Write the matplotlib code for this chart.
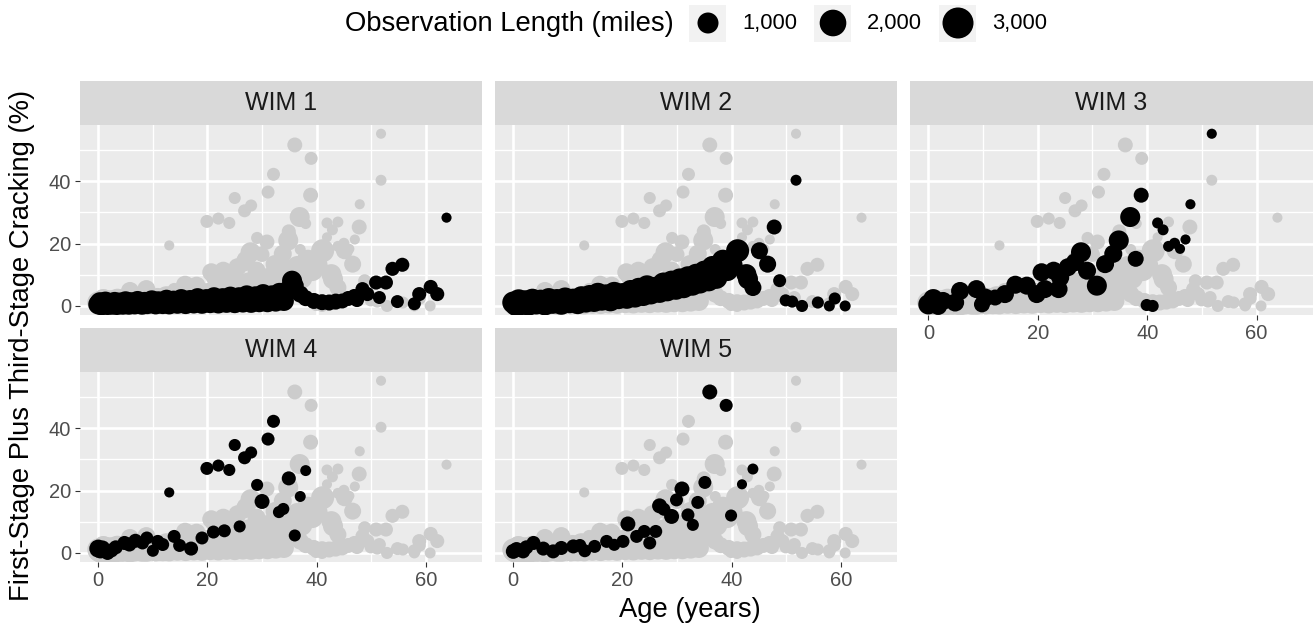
import numpy as np
import matplotlib
matplotlib.use("Agg")
import matplotlib.pyplot as plt
from matplotlib.patches import Rectangle

plt.rcParams['font.family'] = ['Liberation Sans', 'DejaVu Sans']

# ---------------- data ----------------
panel_titles = ["WIM 1", "WIM 2", "WIM 3", "WIM 4", "WIM 5"]
legend_breaks = [1000, 2000, 3000]
legend_labels = ["1,000", "2,000", "3,000"]
x_ticks = [0, 20, 40, 60]
y_ticks = [0, 20, 40]

wim1_age = [0.0, 0.3, 0.6, 1.0, 1.3, 1.7, 2.0, 2.5, 3.0, 3.4, 4.0, 4.5, 5.0, 5.6, 6.0, 6.7, 7.2, 8.0, 8.5, 9.0,
            9.8, 10.5, 11.0, 11.8, 12.5, 13.0, 13.8, 14.5, 15.2, 16.0, 16.8, 17.5, 18.2, 19.0, 19.8, 20.5, 21.2,
            22.0, 22.8, 23.5, 24.2, 25.0, 25.8, 26.5, 27.2, 28.0, 28.8, 29.5, 30.2, 31.0, 31.8, 32.5, 33.2, 34.0,
            34.8, 35.5, 36.0, 37.0, 38.0, 39.5, 41.0, 42.3, 43.5, 44.7, 45.8, 46.9, 47.4, 48.4, 49.3, 50.9, 51.5,
            52.7, 53.9, 55.7, 54.8, 57.9, 58.8, 60.9, 62.1, 63.8]
wim1_crack = [0.5, 1.2, 0.2, 0.9, 1.4, 0.3, 1.0, 0.4, 1.3, 0.3, 1.1, 0.4, 1.5, 0.4, 1.2, 0.5, 1.6, 0.4, 1.3, 0.6,
              1.8, 0.5, 1.5, 0.6, 2.0, 0.5, 1.7, 0.7, 2.2, 0.6, 1.9, 0.8, 2.5, 0.7, 2.2, 0.9, 2.8, 0.8, 2.5, 1.0,
              3.0, 0.9, 2.8, 1.1, 3.4, 1.0, 3.1, 1.2, 3.8, 1.2, 3.4, 1.4, 4.2, 1.6, 5.0, 8.1, 6.5, 3.8, 2.5, 1.6,
              1.2, 1.1, 1.4, 1.6, 2.4, 3.2, 1.9, 5.4, 3.8, 7.5, 2.7, 7.5, 11.9, 13.2, 1.4, 0.7, 3.8, 6.1, 3.8, 28.3]
wim1_len = [860, 860, 860, 860, 860, 860, 860, 860, 860, 860, 860, 860, 860, 860, 860, 860, 860, 860, 860, 860,
            860, 860, 860, 860, 860, 860, 860, 860, 860, 860, 860, 860, 860, 860, 860, 860, 860, 860, 860, 860,
            860, 860, 860, 860, 860, 860, 860, 860, 860, 860, 860, 860, 860, 860, 860, 860, 610, 500, 400, 400,
            400, 400, 400, 310, 310, 240, 240, 240, 240, 240, 170, 240, 240, 240, 170, 170, 240, 240, 240, 40]

wim2_age = [0.0, 0.5, 1.0, 1.5, 2.2, 2.8, 3.5, 4.2, 5.0, 5.8, 6.5, 7.2, 8.0, 8.8, 9.5, 10.3, 11.0, 11.8, 12.5,
            13.3, 14.0, 14.8, 15.5, 16.2, 17.0, 17.8, 18.5, 19.3, 20.0, 20.8, 21.5, 22.3, 23.0, 23.8, 24.5, 25.2,
            26.0, 26.8, 27.5, 28.2, 29.0, 29.8, 30.5, 31.2, 32.0, 32.8, 33.5, 34.2, 35.0, 35.8, 36.5, 37.2, 38.4,
            39.2, 40.0, 41.1, 42.7, 43.0, 43.9, 45.1, 46.6, 47.8, 48.8, 49.9, 51.1, 51.8, 52.9, 55.8, 57.9, 58.9,
            60.8]
wim2_crack = [1.1, 0.3, 1.8, 0.6, 1.5, 0.4, 2.0, 0.8, 1.7, 0.5, 2.2, 1.0, 1.9, 0.7, 2.4, 1.2, 2.0, 0.9, 2.8,
              1.4, 3.2, 1.6, 3.9, 2.0, 3.4, 1.8, 4.2, 2.5, 3.8, 2.6, 4.8, 3.0, 5.5, 3.5, 6.3, 4.0, 5.8, 4.5, 7.2,
              5.0, 7.8, 5.5, 8.5, 6.0, 9.2, 6.8, 10.0, 7.5, 11.0, 8.2, 12.5, 9.0, 14.5, 11.5, 13.0, 17.7, 10.2, 8.6,
              5.9, 17.7, 13.4, 25.3, 8.1, 1.8, 1.4, 40.3, 0.0, 1.1, 0.0, 2.4, 0.0]
wim2_len = [1150, 1150, 1150, 1150, 1150, 1150, 1150, 1150, 1150, 1150, 1150, 1150, 1150, 1150, 1150, 1150, 1150,
            1150, 1150, 1150, 1150, 1150, 1150, 1150, 1150, 1150, 1150, 1150, 1150, 1150, 1150, 1150, 1150, 1150,
            1150, 1150, 1150, 1150, 1150, 1150, 1150, 1150, 1150, 1150, 1150, 1150, 1150, 1150, 1150, 1150, 1150,
            1150, 1150, 1150, 1150, 1310, 860, 860, 500, 500, 500, 310, 170, 120, 120, 70, 120, 120, 70, 120, 70]

wim3_age = [0.0, 0.9, 1.8, 2.7, 4.9, 5.8, 8.8, 9.8, 10.4, 12.2, 14.0, 15.9, 18.0, 19.8, 20.7, 21.3, 22.9, 23.8,
            24.1, 25.5, 26.8, 27.9, 29.0, 30.8, 32.3, 33.8, 34.8, 36.9, 37.9, 38.9, 39.9, 41.0, 41.9, 42.9, 43.9,
            45.0, 46.0, 47.0, 47.9, 51.8]
wim3_crack = [0.5, 2.2, 0.0, 1.6, 1.1, 4.8, 5.4, 0.5, 2.7, 2.7, 3.8, 6.8, 6.5, 3.8, 10.8, 5.4, 11.3, 5.4, 9.1,
              12.4, 14.0, 17.2, 11.3, 6.5, 13.4, 16.7, 21.0, 28.5, 15.1, 35.5, 0.3, 0.0, 26.6, 24.4, 19.1, 20.1,
              18.3, 21.3, 32.6, 55.2]
wim3_len = [860, 860, 610, 610, 610, 610, 610, 400, 610, 400, 610, 610, 610, 610, 610, 610, 610, 610, 610, 610,
            610, 860, 610, 860, 610, 610, 860, 860, 400, 310, 120, 120, 70, 70, 70, 70, 40, 40, 40, 40]

wim4_age = [0.0, 0.4, 0.8, 1.7, 2.4, 3.2, 4.8, 5.7, 6.8, 8.1, 8.9, 10.0, 10.9, 11.8, 13.0, 13.9, 14.9, 17.0,
            19.0, 19.9, 21.1, 22.0, 23.1, 24.0, 25.0, 25.9, 26.8, 28.0, 29.1, 30.0, 31.1, 32.1, 33.1, 33.9,
            34.9, 36.0, 37.0, 38.0]
wim4_crack = [1.4, 0.8, 1.6, 0.0, 0.8, 1.8, 3.2, 2.7, 3.9, 3.2, 4.8, 0.7, 3.7, 2.7, 19.4, 5.3, 2.4, 1.4, 4.8,
              27.1, 6.7, 28.0, 7.1, 26.6, 34.6, 8.5, 30.5, 32.2, 21.8, 16.5, 36.5, 42.2, 13.1, 14.1, 23.9, 5.6,
              18.1, 26.4]
wim4_len = [610, 400, 310, 240, 240, 240, 240, 240, 240, 170, 170, 120, 170, 170, 40, 170, 170, 240, 170, 170,
            170, 120, 170, 120, 120, 120, 170, 120, 120, 310, 170, 170, 120, 120, 240, 120, 70, 70]

wim5_age = [0.0, 0.6, 1.8, 2.4, 3.7, 5.5, 7.3, 8.8, 11.0, 12.2, 13.1, 14.9, 17.1, 18.5, 20.1, 21.0, 22.6, 24.0,
            25.0, 26.1, 26.8, 27.6, 29.0, 29.9, 30.9, 32.0, 32.9, 33.8, 35.1, 36.0, 39.0, 39.9, 41.9, 43.9]
wim5_crack = [0.5, 1.1, 0.5, 1.8, 3.2, 1.4, 0.5, 1.6, 2.1, 2.4, 0.7, 2.1, 3.7, 2.6, 3.7, 9.3, 5.3, 6.9, 3.2,
              6.9, 15.1, 14.0, 11.7, 17.0, 20.5, 12.2, 9.0, 16.2, 22.6, 51.6, 47.3, 12.0, 22.0, 26.9]
wim5_len = [310, 310, 240, 240, 240, 240, 240, 240, 240, 170, 170, 170, 170, 120, 170, 310, 170, 170, 170, 170,
            310, 170, 310, 170, 310, 170, 120, 170, 170, 310, 170, 120, 40, 70]

# ---------------- layout ----------------
W, H, DPI = 1315, 633, 100
fig = plt.figure(figsize=(W / DPI, H / DPI), dpi=DPI)
fig.patch.set_facecolor("white")


def rect(x0, y0, x1, y1):
    return [x0 / W, 1 - y1 / H, (x1 - x0) / W, (y1 - y0) / H]


def size_of(L):
    d_px = 7.34 + 13.66 * np.sqrt(np.asarray(L, dtype=float) / 1000.0)
    return (d_px * 72.0 / DPI) ** 2


groups_age = [wim1_age, wim2_age, wim3_age, wim4_age, wim5_age]
groups_crack = [wim1_crack, wim2_crack, wim3_crack, wim4_crack, wim5_crack]
groups_len = [wim1_len, wim2_len, wim3_len, wim4_len, wim5_len]
all_age = np.concatenate(groups_age)
all_crack = np.concatenate(groups_crack)
all_len = np.concatenate(groups_len)

cols = [(80, 482), (495, 897), (910, 1313)]
rows = [(125, 315), (372, 562)]
strips = [(81, 125), (328, 372)]
positions = [(0, 0), (0, 1), (0, 2), (1, 0), (1, 1)]
show_x = [False, False, True, True, True]
show_y = [True, False, False, True, False]

for i, (r, c) in enumerate(positions):
    x0, x1 = cols[c]
    y0, y1 = rows[r]
    ax = fig.add_axes(rect(x0, y0, x1, y1))
    ax.set_facecolor("#EBEBEB")
    ax.set_xlim(-3.35, 70.3)
    ax.set_ylim(-2.9, 58.0)
    ax.set_xticks(x_ticks)
    ax.set_yticks(y_ticks)
    ax.set_xticks([10, 30, 50], minor=True)
    ax.set_yticks([10, 30, 50], minor=True)
    ax.grid(which="major", color="white", linewidth=1.9)
    ax.grid(which="minor", color="white", linewidth=0.95)
    ax.set_axisbelow(True)
    for sp in ax.spines.values():
        sp.set_visible(False)
    ax.tick_params(which="minor", length=0)
    ax.tick_params(which="major", length=3.8, width=0.8, color="#333333",
                   labelsize=14.5, labelcolor="#4D4D4D", pad=2.5)
    if not show_x[i]:
        ax.tick_params(axis="x", which="major", length=0, labelbottom=False)
    if not show_y[i]:
        ax.tick_params(axis="y", which="major", length=0, labelleft=False)
    ax.scatter(all_age, all_crack, s=size_of(all_len), c="#CCCCCC", linewidths=0, zorder=2)
    ax.scatter(groups_age[i], groups_crack[i], s=size_of(groups_len[i]), c="black", linewidths=0, zorder=3)

    sy0, sy1 = strips[r]
    sax = fig.add_axes(rect(x0, sy0, x1, sy1))
    sax.set_facecolor("#D9D9D9")
    sax.set_xticks([])
    sax.set_yticks([])
    for sp in sax.spines.values():
        sp.set_visible(False)
    sax.text(0.5, 0.5, panel_titles[i], ha="center", va="center", fontsize=18, color="#1A1A1A",
             transform=sax.transAxes)

# axis titles
fig.text(690 / W, 1 - 610 / H, "Age (years)", ha="center", va="center", fontsize=19.7, color="black")
fig.text(22 / W, 1 - 345 / H, "First-Stage Plus Third-Stage Cracking (%)", ha="center", va="center",
         rotation=90, fontsize=19.7, color="black")

# legend
lax = fig.add_axes([0, 0, 1, 1], zorder=-1)
lax.set_xlim(0, W)
lax.set_ylim(H, 0)
lax.axis("off")
lax.text(345, 24, "Observation Length (miles)", ha="left", va="center", fontsize=19.7, color="black")
key_x = [708, 833, 958]
label_x = [742, 867, 992]
for kx in key_x:
    lax.add_patch(Rectangle((kx - 18.5, 5), 37, 37, facecolor="#F2F2F2", edgecolor="none"))
lax.scatter(key_x, [23, 23, 23], s=size_of(legend_breaks), c="black", linewidths=0, zorder=3)
for lx, lab in zip(label_x, legend_labels):
    lax.text(lx, 24, lab, ha="left", va="center", fontsize=15.8, color="black")

fig.savefig("out.png", dpi=DPI)
